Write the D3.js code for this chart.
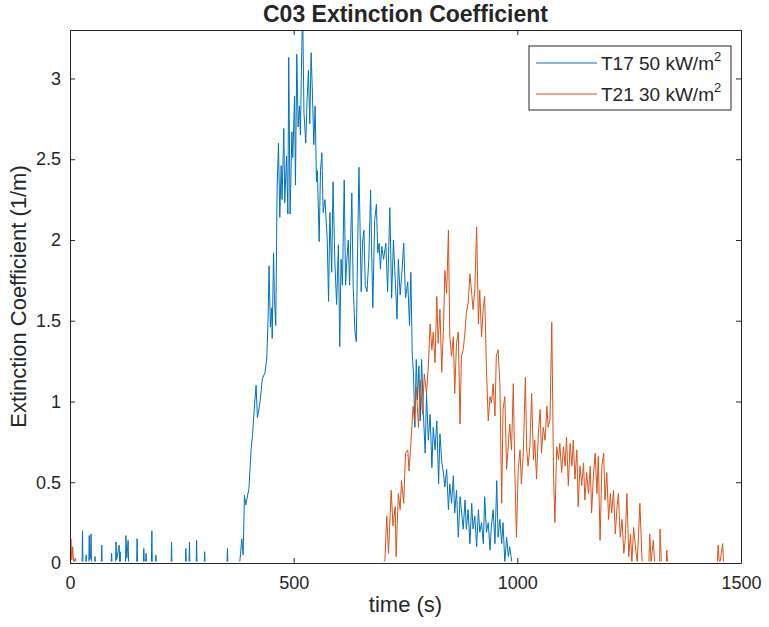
<!DOCTYPE html>
<html>
<head>
<meta charset="utf-8">
<script src="https://cdn.jsdelivr.net/npm/d3@7"></script>
<style>
  body { margin: 0; background: #fff; }
  text { font-family: "Liberation Sans", Arial, Helvetica, sans-serif; fill: #262626; }
</style>
</head>
<body>
<svg id="chart"></svg>
<script>
// values (time in s, extinction coefficient in 1/m)
const t17Time = [0, 27, 28, 29, 35, 36, 37, 42, 43, 44, 46, 47, 48, 55, 56, 57, 70, 71, 72, 92, 93, 94, 102, 103, 104, 110, 111, 112, 113,
  124, 125, 127, 130, 131, 149, 150, 151, 164, 165, 166, 169, 170, 171, 182, 183, 184, 191, 192, 193, 226, 227, 228,
  258, 259, 260, 266, 267, 268, 282, 283, 284, 300, 301, 302, 351, 352, 353, 379,
  380, 384, 387, 390, 393, 400, 405, 408, 412, 416, 419, 425, 430, 436, 440, 443, 445, 448, 451, 452, 455, 457, 460,
  463, 466, 469, 472, 474, 478, 480, 484, 487, 489, 492, 496, 498, 502, 504, 507, 510, 513, 515, 517, 520, 523, 527,
  530, 533, 536, 539, 542, 545, 548, 551, 553, 557, 560, 563, 566, 570, 575, 578, 581, 585, 588, 592, 596, 600, 603,
  606, 609, 613, 616, 619, 622, 625, 630, 633, 637, 640, 643, 646, 651, 654, 657, 660, 664, 668, 672, 674, 677, 681,
  685, 688, 691, 694, 697, 701, 706, 710, 715, 719, 723, 726, 731, 734, 738, 741, 746, 750, 755, 759, 762, 765, 768,
  771, 774, 777, 780, 783, 786, 790, 794, 797, 801, 805, 809, 812, 816, 820, 824, 827, 831, 835, 838, 842, 846, 849,
  853, 857, 860, 864, 868, 872, 875, 879, 883, 886, 890, 894, 898, 901, 905, 909, 913, 916, 920, 924, 927, 931, 935,
  939, 942, 946, 950, 954, 957, 961, 965, 968, 972, 976, 980, 983, 988, 1000];
const t17Ext = [0, 0, 0.20, 0, 0, 0.05, 0, 0, 0.17, 0.02, 0.03, 0.18, 0, 0, 0.04, 0, 0, 0.11, 0, 0, 0.06, 0, 0, 0.13, 0.02, 0.11, 0, 0.07, 0,
  0, 0.17, 0.03, 0.14, 0, 0, 0.15, 0, 0, 0.09, 0, 0, 0.06, 0, 0, 0.20, 0, 0, 0.05, 0, 0, 0.13, 0,
  0, 0.09, 0, 0, 0.13, 0, 0, 0.14, 0, 0, 0.07, 0, 0, 0.09, 0, 0,
  0.02, 0.15, 0.05, 0.42, 0.36, 0.46, 0.71, 0.79, 0.96, 1.10, 0.90, 1.00, 1.14, 1.18, 1.27, 1.53, 1.84, 1.46, 1.58, 1.39, 1.92, 1.64, 1.47,
  2.32, 2.60, 2.14, 2.46, 2.25, 2.69, 2.23, 2.52, 2.16, 3.13, 2.16, 2.67, 2.51, 2.89, 2.34, 3.15, 2.70, 2.83, 2.65, 3.00, 3.45, 2.79, 2.60,
  2.87, 3.05, 2.72, 3.16, 2.90, 2.59, 2.83, 2.36, 2.43, 1.99, 2.43, 2.54, 2.17, 2.25, 2.01, 1.62, 2.17, 1.80, 2.36, 1.87, 1.60, 1.97, 1.34,
  1.88, 1.72, 2.37, 1.72, 1.88, 2.00, 1.72, 2.29, 1.72, 1.43, 1.37, 1.96, 2.45, 1.68, 1.98, 2.06, 1.72, 1.68, 1.88, 2.31, 1.98, 1.58, 2.12,
  2.22, 1.92, 1.98, 1.82, 1.96, 1.88, 1.98, 1.68, 2.20, 1.64, 2.00, 1.82, 1.51, 1.88, 1.66, 1.76, 1.98, 1.64, 1.74, 1.47, 1.80, 1.30, 1.16,
  0.84, 1.26, 1.01, 1.22, 0.88, 1.26, 0.92, 0.68, 1.05, 0.76, 0.92, 0.59, 0.84, 0.70, 0.88, 0.49, 0.80, 0.63, 0.55, 0.47, 0.58, 0.33, 0.49,
  0.37, 0.54, 0.31, 0.45, 0.16, 0.41, 0.33, 0.21, 0.39, 0.21, 0.33, 0.12, 0.37, 0.21, 0.29, 0.10, 0.33, 0.19, 0.25, 0.12, 0.41, 0.19, 0.25,
  0.08, 0.23, 0.33, 0.12, 0.51, 0.16, 0.27, 0.12, 0.25, 0, 0.16, 0.04, 0.10, 0, 0];

const t21Time = [0, 2, 4, 6, 8, 12, 14, 700, 704, 708, 712, 718, 722, 727, 729, 734, 738, 741, 746, 750, 755, 758, 762, 767, 770, 774,
  779, 783, 788, 792, 797, 801, 805, 809, 812, 816, 820, 823, 827, 831, 835, 838, 842, 846, 849, 853, 857, 860, 864, 868, 872,
  875, 879, 883, 886, 890, 894, 898, 901, 905, 909, 913, 916, 920, 924, 927, 931, 935, 939, 942, 946, 950, 953, 957, 961, 965,
  968, 972, 976, 980, 983, 987, 991, 994, 998, 1002, 1006, 1009, 1013, 1018, 1021, 1024, 1028, 1032, 1036, 1039, 1043, 1047,
  1051, 1054, 1058, 1062, 1066, 1069, 1073, 1077, 1081, 1084, 1088, 1092, 1095, 1099, 1103, 1107, 1110, 1114, 1118, 1122,
  1125, 1129, 1133, 1136, 1140, 1144, 1148, 1151, 1155, 1159, 1163, 1166, 1170, 1174, 1178, 1181, 1185, 1189, 1193, 1196,
  1200, 1204, 1208, 1211, 1215, 1219, 1223, 1226, 1230, 1234, 1238, 1241, 1245, 1249, 1253, 1256, 1260, 1264, 1268, 1271,
  1274, 1279, 1294, 1296, 1299, 1304, 1307, 1318, 1319, 1322, 1333, 1334, 1336, 1447, 1449, 1451, 1453, 1459, 1461, 1470];
const t21Ext = [0.02, 0.15, 0.02, 0.10, 0, 0.03, 0, 0, 0.02, 0.29, 0.06, 0.45, 0.23, 0.35, 0.04, 0.43, 0.33, 0.51, 0.37, 0.68, 0.70, 0.57, 0.74, 0.97, 0.88, 1.09,
  0.84, 1.13, 0.92, 1.17, 1.05, 1.22, 1.48, 1.32, 1.43, 1.24, 1.65, 1.36, 1.57, 1.18, 1.46, 1.81, 1.67, 2.06, 1.40, 1.28, 1.40, 1.05, 1.36, 1.43, 0.86,
  1.28, 1.32, 1.43, 1.55, 1.61, 1.79, 1.67, 1.57, 1.69, 2.08, 1.48, 1.69, 1.40, 1.59, 1.65, 1.20, 0.88, 1.03, 0.99, 1.11, 0.91, 1.28, 1.32, 1.11, 0.37,
  0.95, 1.03, 0.58, 0.74, 0.86, 0.70, 1.11, 0.62, 0.16, 0.58, 0.70, 0.49, 0.66, 1.15, 0.70, 0.60, 0.72, 1.05, 0.64, 0.76, 0.52, 0.80,
  0.95, 0.68, 0.84, 0.76, 0.97, 0.84, 0.89, 1.49, 0.54, 0.25, 0.72, 0.64, 0.74, 0.56, 0.72, 0.60, 0.78, 0.48, 0.74, 0.60,
  0.76, 0.52, 0.70, 0.35, 0.60, 0.48, 0.62, 0.39, 0.56, 0.43, 0.60, 0.31, 0.54, 0.68, 0.43, 0.66, 0.14, 0.60, 0.68, 0.39,
  0.56, 0.27, 0.43, 0.31, 0.45, 0.18, 0.35, 0.43, 0.16, 0.27, 0.06, 0.14, 0.43, 0.04, 0.18, 0, 0.22, 0.10, 0, 0.18,
  0.37, 0, 0, 0.18, 0, 0.14, 0, 0, 0.21, 0, 0, 0.08, 0, 0, 0.11, 0.02, 0, 0.12, 0, 0];

const seriesNames = ["T17 50 kW/m", "T21 30 kW/m"];
const seriesColors = ["#0072BD", "#D95319"];
const xTicks = [0, 500, 1000, 1500];
const yTicks = [0, 0.5, 1, 1.5, 2, 2.5, 3];

const width = 769, height = 627;
const margin = {top: 30, right: 28, bottom: 64, left: 70};
const axisColor = "#262626";

const svg = d3.select("#chart").attr("width", width).attr("height", height);

const x = d3.scaleLinear().domain([0, 1500]).range([margin.left, width - margin.right]);
const y = d3.scaleLinear().domain([0, 3.3]).range([height - margin.bottom, margin.top]);

// clip a little above the bottom axis so the zero runs stay hidden under it
svg.append("clipPath").attr("id", "clip")
  .append("rect")
  .attr("x", margin.left).attr("y", margin.top)
  .attr("width", x(1500) - x(0)).attr("height", y(0) - y(3.3) - 1.5);

const line = d3.line().x(d => x(d[0])).y(d => y(d[1]));

const series = [
  d3.zip(t17Time, t17Ext),
  d3.zip(t21Time, t21Ext)
];

svg.append("g").attr("clip-path", "url(#clip)")
  .selectAll("path")
  .data(series)
  .join("path")
  .attr("fill", "none")
  .attr("stroke", (d, i) => seriesColors[i])
  .attr("stroke-width", 1)
  .attr("stroke-linejoin", "round")
  .attr("d", line);

// axes, ticks inside, box on all four sides
const axisB = d3.axisBottom(x).tickValues(xTicks).tickSize(-5).tickSizeOuter(0).tickPadding(13).tickFormat(d3.format("d"));
const axisT = d3.axisTop(x).tickValues(xTicks).tickSize(-5).tickSizeOuter(0).tickFormat("");
const axisL = d3.axisLeft(y).tickValues(yTicks).tickSize(-5).tickSizeOuter(0).tickPadding(9).tickFormat(d3.format("~g"));
const axisR = d3.axisRight(y).tickValues(yTicks).tickSize(-5).tickSizeOuter(0).tickFormat("");

function styleAxis(g) {
  g.select(".domain").attr("stroke", axisColor);
  g.selectAll(".tick line").attr("stroke", axisColor);
  g.selectAll(".tick text").attr("font-size", 18).attr("fill", axisColor)
    .attr("font-family", '"Liberation Sans", Arial, sans-serif');
}

svg.append("g").attr("transform", `translate(0,${y(0)})`).call(axisB).call(styleAxis);
svg.append("g").attr("transform", `translate(0,${y(3.3)})`).call(axisT).call(styleAxis);
svg.append("g").attr("transform", `translate(${x(0)},0)`).call(axisL).call(styleAxis);
svg.append("g").attr("transform", `translate(${x(1500)},0)`).call(axisR).call(styleAxis);

// titles
svg.append("text")
  .attr("x", (x(0) + x(1500)) / 2).attr("y", 22)
  .attr("text-anchor", "middle")
  .attr("font-size", 23).attr("font-weight", "bold")
  .text("C03 Extinction Coefficient");

svg.append("text")
  .attr("x", (x(0) + x(1500)) / 2).attr("y", 612)
  .attr("text-anchor", "middle")
  .attr("font-size", 22)
  .text("time (s)");

svg.append("text")
  .attr("transform", `translate(26,${(y(0) + y(3.3)) / 2}) rotate(-90)`)
  .attr("text-anchor", "middle")
  .attr("font-size", 22)
  .text("Extinction Coefficient (1/m)");

// legend
const legend = svg.append("g").attr("transform", "translate(529,46)");
legend.append("rect")
  .attr("width", 202).attr("height", 64)
  .attr("fill", "#fff").attr("stroke", axisColor).attr("stroke-width", 1);

const rows = legend.selectAll("g.row")
  .data(seriesNames)
  .join("g")
  .attr("class", "row")
  .attr("transform", (d, i) => `translate(0,${17 + i * 31})`);

rows.append("line")
  .attr("x1", 7).attr("x2", 68)
  .attr("stroke", (d, i) => seriesColors[i]).attr("stroke-width", 1);

const label = rows.append("text")
  .attr("x", 72).attr("y", 7)
  .attr("font-size", 19);
label.append("tspan").text(d => d);
label.append("tspan").attr("font-size", 13).attr("dy", -9).text("2");
</script>
</body>
</html>
